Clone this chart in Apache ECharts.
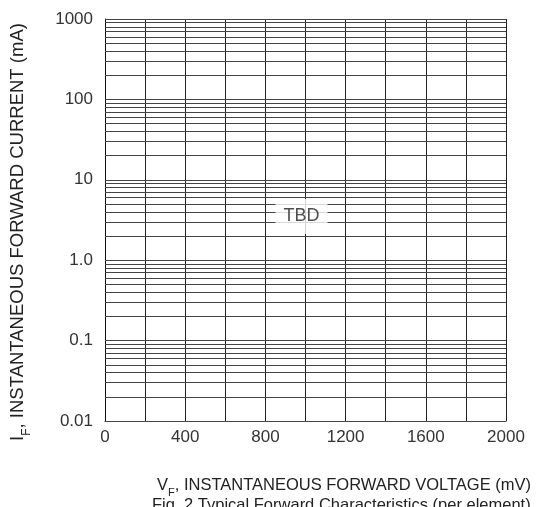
<!DOCTYPE html>
<html>
<head>
<meta charset="utf-8">
<script src="https://cdn.jsdelivr.net/npm/echarts@6/dist/echarts.min.js"></script>
<style>
  html, body { margin: 0; padding: 0; background: #fff; }
  #chart { width: 538px; height: 507px; }
</style>
</head>
<body>
<div id="chart"></div>
<script>
// axis ranges and tick labels
var xTickLabels = [0, 400, 800, 1200, 1600, 2000];
var yTickLabels = ['0.01', '0.1', '1.0', '10', '100', '1000'];
var yDecades = [0.01, 0.1, 1, 10, 100];
var yMultiples = [1, 2, 3, 4, 5, 6, 7, 8, 9];
// placeholder note (no curve data published)
var notePoint = [980, 3.5];
var noteText = 'TBD';

var font = '"Liberation Sans", Arial, sans-serif';

// log grid lines 1..9 per decade
var gridLines = [];
yDecades.forEach(function(d) {
  yMultiples.forEach(function(m) {
    gridLines.push({ yAxis: +(d * m).toPrecision(3) });
  });
});
gridLines.push({ yAxis: 1000 });

var chart = echarts.init(document.getElementById('chart'));

var option = {
  animation: false,
  backgroundColor: '#fff',
  grid: {
    left: 105,
    right: 32,
    top: 19,
    bottom: 86
  },
  xAxis: {
    type: 'value',
    min: 0,
    max: 2000,
    interval: 200,
    axisLine: { lineStyle: { color: '#111', width: 1 } },
    axisTick: { show: false },
    axisLabel: {
      margin: 8,
      color: '#333',
      fontFamily: font,
      fontSize: 17,
      formatter: function(v) {
        return xTickLabels.indexOf(v) >= 0 ? String(v) : '';
      }
    },
    splitLine: { show: true, lineStyle: { color: '#222', width: 1 } }
  },
  yAxis: {
    type: 'log',
    logBase: 10,
    min: 0.01,
    max: 1000,
    splitNumber: 5,
    axisLine: { show: true, lineStyle: { color: '#111', width: 1 } },
    axisTick: { show: false },
    axisLabel: {
      margin: 12,
      color: '#333',
      fontFamily: font,
      fontSize: 17,
      formatter: function(v) {
        var i = Math.round(Math.log10(v)) + 2;
        return yTickLabels[i] || '';
      }
    },
    splitLine: { show: false }
  },
  graphic: [
    {
      type: 'text',
      x: 18,
      y: 232,
      rotation: Math.PI / 2,
      style: {
        text: '{m|I}{s|F}{m|, INSTANTANEOUS FORWARD CURRENT (mA)}',
        align: 'center',
        verticalAlign: 'middle',
        rich: {
          m: { fontFamily: font, fontSize: 18.5, fill: '#222' },
          s: { fontFamily: font, fontSize: 12, fill: '#222', verticalAlign: 'bottom', padding: [0, 0, -5, 0] }
        }
      }
    },
    {
      type: 'text',
      left: 157,
      top: 477,
      style: {
        text: '{m|V}{s|F}{m|, INSTANTANEOUS FORWARD VOLTAGE (mV)}',
        rich: {
          m: { fontFamily: font, fontSize: 16.5, fill: '#222' },
          s: { fontFamily: font, fontSize: 11, fill: '#222', verticalAlign: 'bottom', padding: [0, 0, -4, 0] }
        }
      }
    },
    {
      type: 'text',
      left: 152,
      top: 497,
      style: {
        text: 'Fig. 2 Typical Forward Characteristics (per element)',
        fontFamily: font,
        fontSize: 16.5,
        fill: '#222'
      }
    }
  ],
  series: [
    {
      type: 'scatter',
      data: [notePoint],
      symbolSize: 0,
      silent: true,
      z: 10,
      label: {
        show: true,
        position: 'inside',
        formatter: noteText,
        fontFamily: font,
        fontSize: 18,
        color: '#222',
        backgroundColor: '#fff',
        padding: [9, 8, 8, 8]
      },
      markLine: {
        silent: true,
        symbol: 'none',
        label: { show: false },
        lineStyle: { color: '#444', width: 1, type: 'solid' },
        z: 1,
        data: gridLines
      }
    }
  ]
};

chart.setOption(option);
</script>
</body>
</html>
